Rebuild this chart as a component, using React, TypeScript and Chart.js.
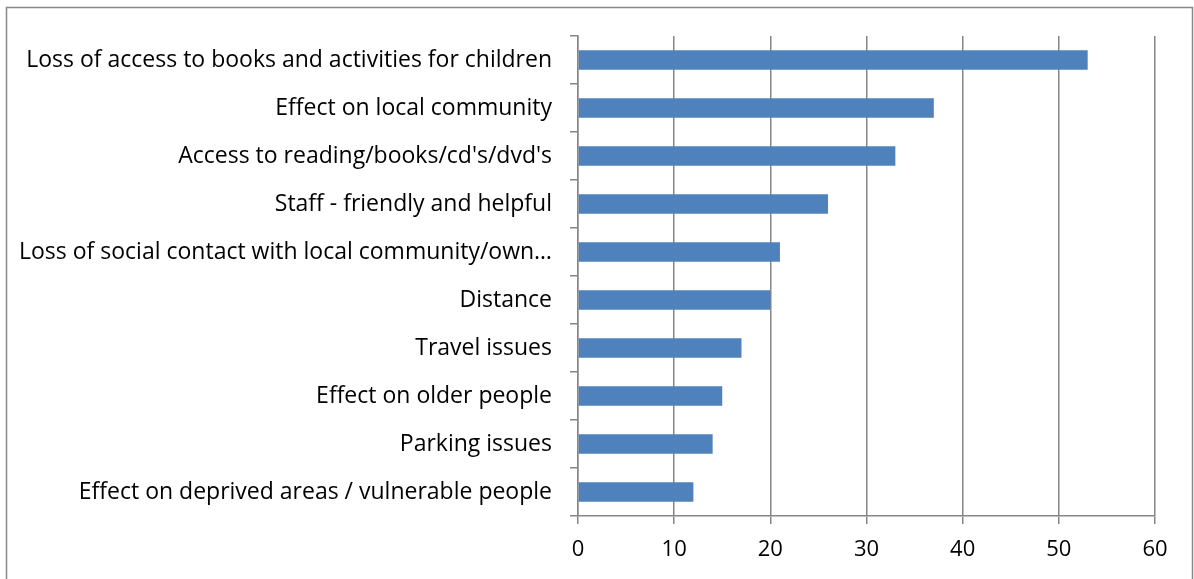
import React, { useEffect, useRef } from "react";
import { Chart, registerables } from "chart.js";

Chart.register(...registerables);

const categories = [
  "Loss of access to books and activities for children",
  "Effect on local community",
  "Access to reading/books/cd's/dvd's",
  "Staff - friendly and helpful",
  "Loss of social contact with local community/own…",
  "Distance",
  "Travel issues",
  "Effect on older people",
  "Parking issues",
  "Effect on deprived areas / vulnerable people",
];
const values = [53, 37, 33, 26, 21, 20, 17, 15, 14, 12];
const xMin = 0;
const xMax = 60;
const xStep = 10;

const FONT = "'Open Sans', sans-serif";

const frame = {
  id: "frame",
  beforeDraw(chart: any) {
    const ctx = chart.ctx;
    ctx.save();
    ctx.fillStyle = "#ffffff";
    ctx.fillRect(0, 0, chart.width, chart.height);
    ctx.strokeStyle = "#888888";
    ctx.lineWidth = 1.5;
    ctx.strokeRect(6.5, 7.5, 1186, 620);
    ctx.restore();
  },
};

export default function App() {
  const ref = useRef<HTMLCanvasElement | null>(null);
  useEffect(() => {
    document.body.style.margin = "0";
    const chart = new Chart(ref.current as HTMLCanvasElement, {
      type: "bar",
      data: {
        labels: categories,
        datasets: [
          {
            data: values,
            backgroundColor: "#4f81bd",
            borderWidth: 0,
            categoryPercentage: 1,
            barPercentage: 0.41,
          },
        ],
      },
      plugins: [frame],
      options: {
        indexAxis: "y",
        animation: false,
        responsive: false,
        maintainAspectRatio: false,
        layout: { padding: { left: 0, right: 39, top: 36, bottom: 0 } },
        plugins: { legend: { display: false }, tooltip: { enabled: false } },
        scales: {
          x: {
            min: xMin,
            max: xMax,
            afterFit(scale: any) {
              scale.height = 63;
            },
            ticks: {
              stepSize: xStep,
              color: "#000",
              font: { family: FONT, size: 22 },
              padding: 13,
            },
            grid: {
              color: "#868686",
              lineWidth: 1.5,
              tickLength: 8,
              drawTicks: true,
            },
            border: { display: true, color: "#868686", width: 1.5 },
          },
          y: {
            afterFit(scale: any) {
              scale.width = 578;
            },
            ticks: {
              color: "#000",
              font: { family: FONT, size: 23 },
              padding: 18,
              autoSkip: false,
            },
            grid: {
              offset: true,
              drawOnChartArea: false,
              drawTicks: true,
              tickLength: 8,
              color: "#868686",
              lineWidth: 1.5,
            },
            border: { display: true, color: "#868686", width: 1.5 },
          },
        },
      },
    } as any);
    return () => chart.destroy();
  }, []);
  return (
    <div style={{ position: "relative", width: 1194, height: 579 }}>
      <canvas ref={ref} width={1194} height={579} style={{ display: "block" }} />
    </div>
  );
}
